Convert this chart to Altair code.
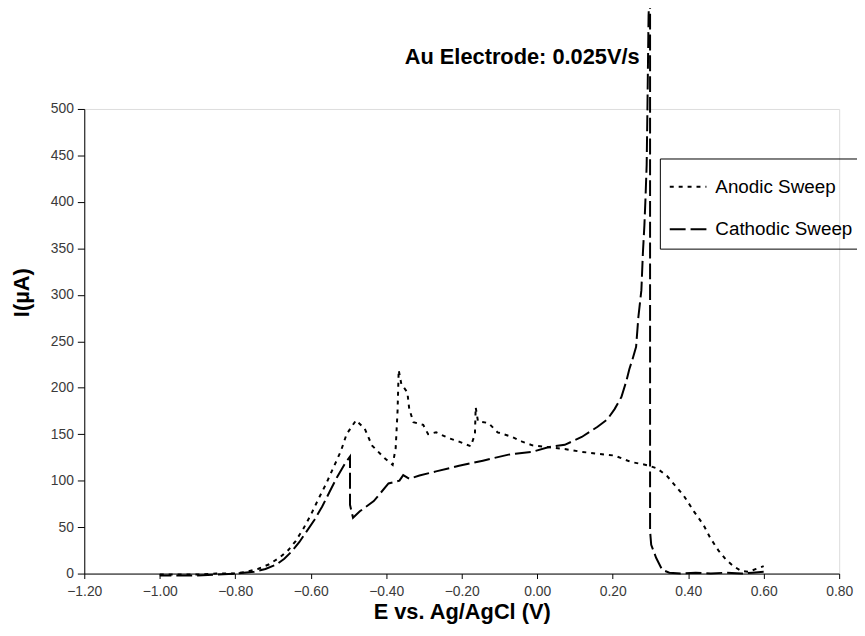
import altair as alt
import pandas as pd

# Anodic sweep (E in V, I in µA), in sweep order
anodic_E = [-1.00, -0.95, -0.90, -0.85, -0.80, -0.77, -0.74, -0.71, -0.68, -0.66, -0.64, -0.62,
            -0.60, -0.58, -0.56, -0.54, -0.52, -0.505, -0.48, -0.457, -0.438, -0.404, -0.383,
            -0.375, -0.370, -0.367, -0.360, -0.344, -0.339, -0.328, -0.302, -0.289, -0.268,
            -0.236, -0.207, -0.176, -0.165, -0.163, -0.157, -0.129, -0.105, -0.066, -0.040,
            -0.013, 0.030, 0.073, 0.118, 0.160, 0.205, 0.249, 0.276, 0.297, 0.318, 0.344,
            0.388, 0.415, 0.441, 0.459, 0.480, 0.500, 0.520, 0.540, 0.560, 0.580, 0.600]
anodic_I = [-1, -1, -1, 0, 0, 2, 5, 10, 18, 25, 35, 48,
            63, 80, 96, 114, 132, 150, 165, 156, 138, 124, 117,
            135, 175, 219, 204, 195, 177, 163, 160, 150, 152,
            146, 142, 137, 150, 179, 164, 162, 152, 147, 142,
            138, 136, 134, 131, 129, 127, 120, 118, 116, 113, 105,
            84, 67, 52, 38, 25, 15, 8, 3, 2, 5, 8]

# Cathodic sweep (E in V, I in µA), in sweep order
cathodic_E = [0.600, 0.570, 0.540, 0.500, 0.460, 0.420, 0.380, 0.350, 0.331, 0.315, 0.302,
              0.299, 0.299, 0.295, 0.292, 0.290, 0.287, 0.284, 0.280, 0.276, 0.268, 0.262,
              0.252, 0.244, 0.236, 0.223, 0.205, 0.186, 0.160, 0.118, 0.073, 0.029, -0.013,
              -0.058, -0.076, -0.144, -0.207, -0.268, -0.312, -0.339, -0.355, -0.365, -0.394,
              -0.433, -0.470, -0.488, -0.496, -0.496, -0.510, -0.530, -0.550, -0.570, -0.590,
              -0.610, -0.630, -0.650, -0.670, -0.690, -0.720, -0.750, -0.800, -0.850, -0.900,
              -0.950, -1.000]
cathodic_I = [2, 1, 0, 1, 0, 1, 0, 1, 4, 17, 31,
              46, 640, 600, 500, 440, 405, 375, 345, 305, 276, 244,
              230, 220, 207, 190, 177, 166, 158, 147, 138.6, 136, 131,
              129, 128, 121.5, 116, 110, 105.5, 102, 106, 100, 97,
              78, 67, 60, 74, 126, 118, 104, 88, 72, 58,
              46, 34, 24, 16, 10, 5, 2, 0, -1, -2,
              -2, -2]

series_names = ["Anodic Sweep", "Cathodic Sweep"]
x_ticks = [-1.2, -1.0, -0.8, -0.6, -0.4, -0.2, 0.0, 0.2, 0.4, 0.6, 0.8]
y_ticks = [0, 50, 100, 150, 200, 250, 300, 350, 400, 450, 500]
chart_title = ["Au Electrode: 0.025V/s"]

rows = []
for i, (e, v) in enumerate(zip(anodic_E, anodic_I)):
    rows.append({"E": e, "I": v, "series": series_names[0], "idx": i})
for i, (e, v) in enumerate(zip(cathodic_E, cathodic_I)):
    rows.append({"E": e, "I": v, "series": series_names[1], "idx": i})
df = pd.DataFrame(rows)

tick_font = "Liberation Sans, Arial, sans-serif"
bold_font = "Liberation Sans, Arial, sans-serif"

lines = alt.Chart(df).mark_line(color="black", strokeWidth=2).encode(
    x=alt.X("E:Q",
            scale=alt.Scale(domain=[-1.2, 0.8], nice=False, zero=False),
            axis=alt.Axis(values=x_ticks, format=".2f", title="E vs. Ag/AgCl (V)",
                          grid=False, domainColor="black", tickColor="black", tickSize=5,
                          labelFont=tick_font, labelFontSize=14, labelColor="#3a3a3a",
                          labelPadding=6, labelFlush=False,
                          titleFont=bold_font, titleFontSize=22, titleFontWeight="bold",
                          titleColor="black", titleX=381, titleY=38, titleBaseline="middle")),
    y=alt.Y("I:Q",
            scale=alt.Scale(domain=[0, 500], nice=False, zero=False),
            axis=alt.Axis(values=y_ticks, title="I(µA)", grid=False,
                          domainColor="black", tickColor="black", tickSize=7,
                          labelFont=tick_font, labelFontSize=14, labelColor="#3a3a3a",
                          labelPadding=4,
                          titleFont=bold_font, titleFontSize=22, titleFontWeight="bold",
                          titleColor="black", titleX=-63, titleY=185,
                          titleBaseline="middle")),
    strokeDash=alt.StrokeDash("series:N",
                              scale=alt.Scale(domain=series_names, range=[[4, 5], [16, 5]]),
                              legend=alt.Legend(title=None, orient="none", legendX=581,
                                                legendY=50, strokeColor="black",
                                                padding=9, symbolType="stroke",
                                                symbolSize=1369, symbolStrokeColor="black",
                                                symbolStrokeWidth=2, labelFont=bold_font,
                                                labelFontSize=19, labelColor="black",
                                                labelOffset=8, rowPadding=13)),
    order=alt.Order("idx:Q"),
)

title_text = alt.Chart(pd.DataFrame({"t": chart_title})).mark_text(
    font=bold_font, fontSize=22, fontWeight="bold", color="black",
    align="center", baseline="middle",
).encode(text="t:N", x=alt.value(442), y=alt.value(-52))

chart = alt.layer(lines, title_text).properties(
    width=762,
    height=469,
    autosize=alt.AutoSizeParams(type="none"),
    padding={"left": 77, "top": 99, "right": 18, "bottom": 50},
).configure_view(stroke=None).configure(background="white")

chart.save("out.html", embed_options={"renderer": "svg", "actions": False})
